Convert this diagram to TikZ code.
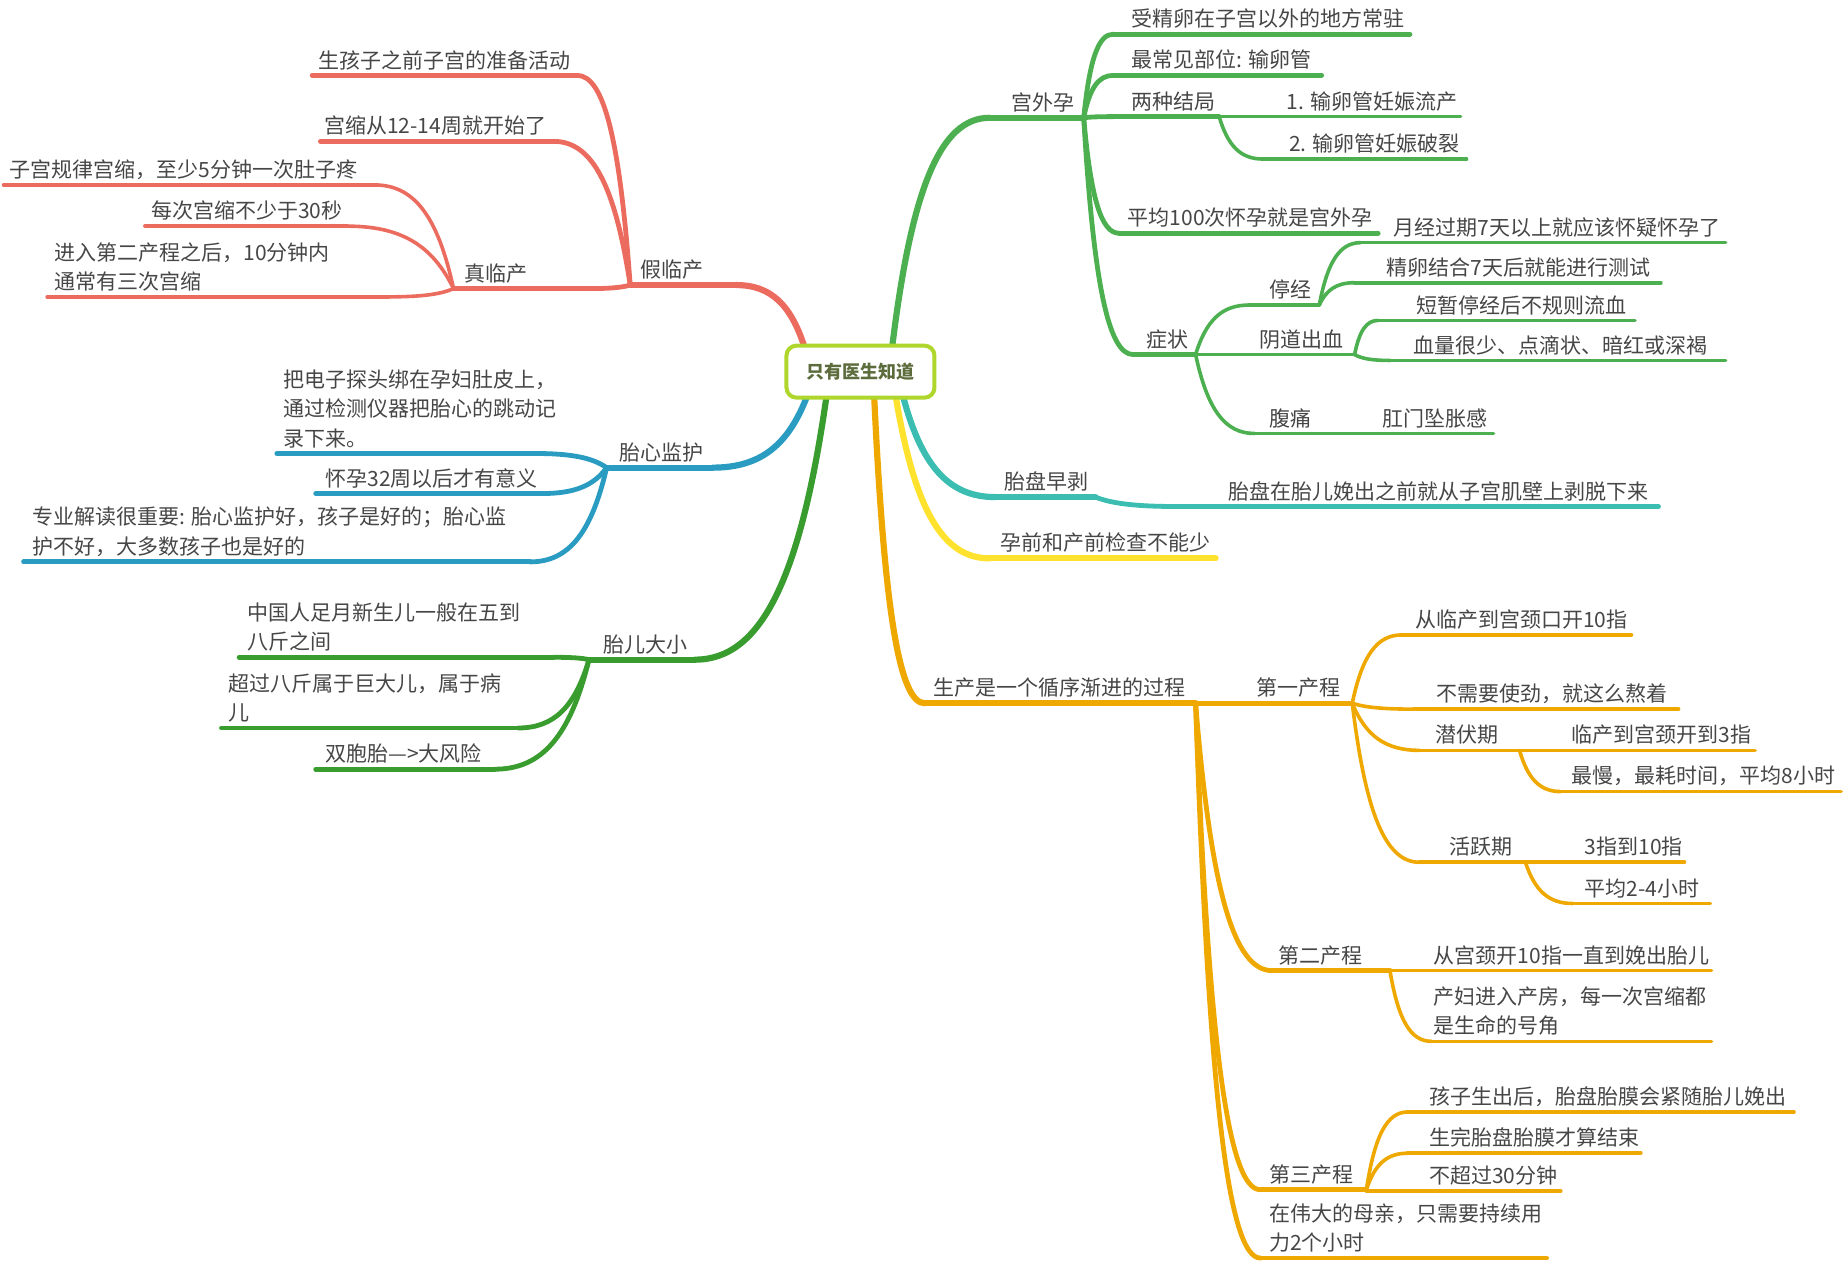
\documentclass[tikz,border=0pt]{standalone}
\usepackage{fontspec}
\setmainfont{Noto Sans CJK SC}
\usetikzlibrary{calc}

\definecolor{mmRed}{HTML}{EC6B5F}
\definecolor{mmGreen}{HTML}{4CAF50}
\definecolor{mmBlue}{HTML}{2A9CC2}
\definecolor{mmDkGreen}{HTML}{389C2E}
\definecolor{mmTeal}{HTML}{3CBDB2}
\definecolor{mmYellow}{HTML}{FFE22E}
\definecolor{mmOrange}{HTML}{EFA800}
\definecolor{mmRoot}{HTML}{AED62C}
\definecolor{mmRootTxt}{HTML}{5D6C3C}
\definecolor{mmTxt}{HTML}{464646}

% \mmtopic[line style]{name}{x left}{x right}{line y}{text x}{text}
\newcommand{\mmtopic}[7][]{%
  \coordinate (#2-l) at (#3,#5);
  \coordinate (#2-r) at (#4,#5);
  \draw[#1] (#2-l) -- (#2-r);
  \node[txt] (#2) at (#6,#5) {#7};
}

\begin{document}
\begin{tikzpicture}[
  x=0.589pt, y=-0.589pt,
  txt/.style={anchor=south west, inner sep=0pt, yshift=2.6pt, align=left,
              font=\fontsize{10.5}{14.7}\selectfont, text=mmTxt},
  root/.style={draw=mmRoot, line width=2pt, rounded corners=5pt, fill=white,
               minimum width=74pt, minimum height=26pt,
               font=\fontsize{9}{11}\selectfont\bfseries, text=mmRootTxt},
  lA/.style={line width=3.1pt},
  lB/.style={line width=2.4pt},
  lC/.style={line width=1.8pt},
  curve/.style={to path={let \p1=(\tikztostart), \p2=(\tikztotarget) in
    .. controls ({\x1+0.2*(\x2-(\x1))},{\y1+0.7*(\y2-(\y1))})
            and ({0.5*(\x1+\x2)},\y2) .. (\tikztotarget)}},
  line cap=round
]
  \useasboundingbox (0,0) rectangle (1568,1074);

  % false labour
  \begin{scope}[draw=mmRed]
    \coordinate (o-red) at (684,298);
    \mmtopic[lA]{jia}{535}{625}{242}{543}{假临产}
    \mmtopic[lB]{s1}{265}{490}{64}{270}{生孩子之前子宫的准备活动}
    \mmtopic[lB]{s2}{272}{470}{120}{275}{宫缩从12-14周就开始了}
    \mmtopic[lB]{zhen}{385}{500}{245}{394}{真临产}
    \mmtopic[lC]{z1}{3}{318}{157}{8}{子宫规律宫缩，至少5分钟一次肚子疼}
    \mmtopic[lC]{z2}{123}{295}{192}{128}{每次宫缩不少于30秒}
    \mmtopic[lC]{z3}{40}{330}{252}{46}{进入第二产程之后，10分钟内\\通常有三次宫缩}
    \draw[lA] (o-red) to[curve] (jia-r);
    \draw[lB] (jia-l) to[curve] (s1-r);
    \draw[lB] (jia-l) to[curve] (s2-r);
    \draw[lB] (jia-l) to[curve] (zhen-r);
    \draw[lC] (zhen-l) to[curve] (z1-r);
    \draw[lC] (zhen-l) to[curve] (z2-r);
    \draw[lC] (zhen-l) to[curve] (z3-r);
  \end{scope}

  % fetal heart monitoring
  \begin{scope}[draw=mmBlue]
    \coordinate (o-blue) at (686,334);
    \mmtopic[lA]{tx}{515}{605}{397}{526}{胎心监护}
    \mmtopic[lB]{t1}{235}{455}{385}{240}{把电子探头绑在孕妇肚皮上，\\通过检测仪器把胎心的跳动记\\录下来。}
    \mmtopic[lB]{t2}{268}{460}{419}{276}{怀孕32周以后才有意义}
    \mmtopic[lB]{t3}{20}{450}{477}{27}{专业解读很重要: 胎心监护好，孩子是好的；胎心监\\护不好，大多数孩子也是好的}
    \draw[lA] (o-blue) to[curve] (tx-r);
    \draw[lB] (tx-l) to[curve] (t1-r);
    \draw[lB] (tx-l) to[curve] (t2-r);
    \draw[lB] (tx-l) to[curve] (t3-r);
  \end{scope}

  % fetal size
  \begin{scope}[draw=mmDkGreen]
    \coordinate (o-dgreen) at (702,334);
    \mmtopic[lA]{dx}{500}{590}{560}{512}{胎儿大小}
    \mmtopic[lB]{d1}{203}{470}{558}{210}{中国人足月新生儿一般在五到\\八斤之间}
    \mmtopic[lB]{d2}{188}{440}{618}{194}{超过八斤属于巨大儿，属于病\\儿}
    \mmtopic[lB]{d3}{268}{420}{653}{276}{双胞胎—>大风险}
    \draw[lA] (o-dgreen) to[curve] (dx-r);
    \draw[lB] (dx-l) to[curve] (d1-r);
    \draw[lB] (dx-l) to[curve] (d2-r);
    \draw[lB] (dx-l) to[curve] (d3-r);
  \end{scope}

  % ectopic pregnancy
  \begin{scope}[draw=mmGreen]
    \coordinate (o-green) at (757,298);
    \mmtopic[lA]{gw}{840}{920}{100}{858}{宫外孕}
    \mmtopic[lB]{g1}{945}{1197}{29}{960}{受精卵在子宫以外的地方常驻}
    \mmtopic[lB]{g2}{945}{1122}{64}{960}{最常见部位: 输卵管}
    \mmtopic[lB]{g3}{945}{1035}{99}{960}{两种结局}
    \mmtopic[lC]{g31}{1035}{1240}{99}{1092}{1. 输卵管妊娠流产}
    \mmtopic[lC]{g32}{1072}{1245}{135}{1094}{2. 输卵管妊娠破裂}
    \mmtopic[lB]{g4}{950}{1170}{198}{957}{平均100次怀孕就是宫外孕}
    \mmtopic[lB]{zz}{962}{1015}{301}{973}{症状}
    \mmtopic[lC]{tj}{1060}{1120}{259}{1077}{停经}
    \mmtopic[lC]{tj1}{1155}{1465}{206}{1183}{月经过期7天以上就应该怀疑怀孕了}
    \mmtopic[lC]{tj2}{1150}{1410}{240}{1177}{精卵结合7天后就能进行测试}
    \mmtopic[lC]{yd}{1015}{1150}{301}{1069}{阴道出血}
    \mmtopic[lC]{yd1}{1170}{1388}{272}{1202}{短暂停经后不规则流血}
    \mmtopic[lC]{yd2}{1180}{1465}{306}{1200}{血量很少、点滴状、暗红或深褐}
    \mmtopic[lC]{ft}{1065}{1120}{368}{1077}{腹痛}
    \mmtopic[lC]{ft1}{1120}{1268}{368}{1173}{肛门坠胀感}
    \draw[lA] (o-green) to[curve] (gw-l);
    \draw[lB] (gw-r) to[curve] (g1-l);
    \draw[lB] (gw-r) to[curve] (g2-l);
    \draw[lB] (gw-r) to[curve] (g3-l);
    \draw[lB] (gw-r) to[curve] (g4-l);
    \draw[lB] (gw-r) to[curve] (zz-l);
    \draw[lC] (g3-r) to[curve] (g32-l);
    \draw[lC] (zz-r) to[curve] (tj-l);
    \draw[lC] (zz-r) to[curve] (ft-l);
    \draw[lC] (tj-r) to[curve] (tj1-l);
    \draw[lC] (tj-r) to[curve] (tj2-l);
    \draw[lC] (yd-r) to[curve] (yd1-l);
    \draw[lC] (yd-r) to[curve] (yd2-l);
  \end{scope}

  % placental abruption
  \begin{scope}[draw=mmTeal]
    \coordinate (o-teal) at (766,334);
    \mmtopic[lA]{tp}{845}{930}{422}{852}{胎盘早剥}
    \mmtopic[lB]{tp1}{1000}{1408}{430}{1043}{胎盘在胎儿娩出之前就从子宫肌壁上剥脱下来}
    \draw[lA] (o-teal) to[curve] (tp-l);
    \draw[lB] (tp-r) to[curve] (tp1-l);
  \end{scope}

  % checks
  \begin{scope}[draw=mmYellow]
    \coordinate (o-yellow) at (760,334);
    \mmtopic[lA]{yq}{840}{1032}{474}{849}{孕前和产前检查不能少}
    \draw[lA] (o-yellow) to[curve] (yq-l);
  \end{scope}

  % labour stages
  \begin{scope}[draw=mmOrange]
    \coordinate (o-orange) at (742,334);
    \mmtopic[lA]{sc}{785}{1015}{597}{792}{生产是一个循序渐进的过程}
    \mmtopic[lB]{c1}{1015}{1148}{597}{1066}{第一产程}
    \mmtopic[lC]{c11}{1190}{1385}{539}{1201}{从临产到宫颈口开10指}
    \mmtopic[lC]{c12}{1200}{1425}{602}{1219}{不需要使劲，就这么熬着}
    \mmtopic[lC]{qf}{1205}{1290}{637}{1218}{潜伏期}
    \mmtopic[lC]{qf1}{1290}{1490}{637}{1334}{临产到宫颈开到3指}
    \mmtopic[lC]{qf2}{1325}{1563}{672}{1334}{最慢，最耗时间，平均8小时}
    \mmtopic[lC]{hy}{1205}{1295}{732}{1230}{活跃期}
    \mmtopic[lC]{hy1}{1295}{1430}{732}{1345}{3指到10指}
    \mmtopic[lC]{hy2}{1335}{1452}{767}{1345}{平均2-4小时}
    \mmtopic[lB]{c2}{1080}{1180}{824}{1085}{第二产程}
    \mmtopic[lC]{c21}{1180}{1453}{824}{1217}{从宫颈开10指一直到娩出胎儿}
    \mmtopic[lC]{c22}{1215}{1453}{884}{1217}{产妇进入产房，每一次宫缩都\\是生命的号角}
    \mmtopic[lB]{c3}{1070}{1160}{1010}{1077}{第三产程}
    \mmtopic[lC]{c31}{1195}{1523}{944}{1213}{孩子生出后，胎盘胎膜会紧随胎儿娩出}
    \mmtopic[lC]{c32}{1195}{1393}{979}{1213}{生完胎盘胎膜才算结束}
    \mmtopic[lC]{c33}{1160}{1325}{1011}{1213}{不超过30分钟}
    \mmtopic[lB]{c4}{1070}{1313}{1068}{1077}{在伟大的母亲，只需要持续用\\力2个小时}
    \draw[lA] (o-orange) to[curve] (sc-l);
    \draw[lB] (sc-r) to[curve] (c2-l);
    \draw[lB] (sc-r) to[curve] (c3-l);
    \draw[lB] (sc-r) to[curve] (c4-l);
    \draw[lC] (c1-r) to[curve] (c11-l);
    \draw[lC] (c1-r) to[curve] (c12-l);
    \draw[lC] (c1-r) to[curve] (qf-l);
    \draw[lC] (c1-r) to[curve] (hy-l);
    \draw[lC] (qf-r) to[curve] (qf2-l);
    \draw[lC] (hy-r) to[curve] (hy2-l);
    \draw[lC] (c2-r) to[curve] (c22-l);
    \draw[lC] (c3-r) to[curve] (c31-l);
    \draw[lC] (c3-r) to[curve] (c32-l);
  \end{scope}

  % central topic
  \node[root] (root) at (730.5,315.5) {只有医生知道};
\end{tikzpicture}
\end{document}
